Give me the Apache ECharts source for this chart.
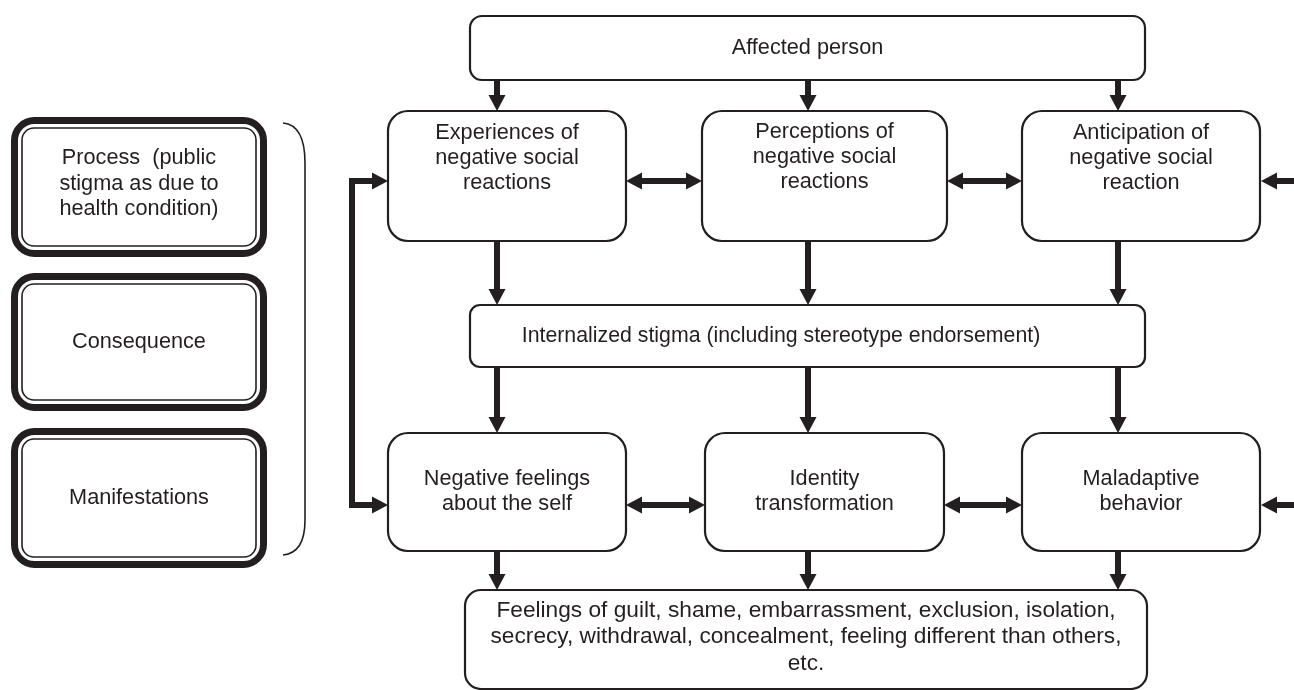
<!DOCTYPE html>
<html>
<head>
<meta charset="utf-8">
<script src="https://cdn.jsdelivr.net/npm/echarts@6/dist/echarts.min.js"></script>
<style>html,body{margin:0;padding:0;background:#fff}#main{width:1294px;height:690px}</style>
</head>
<body>
<div id="main"></div>
<script>
// texts of the diagram
var topText = ['Affected person'];
var row1Text = ['Experiences of\nnegative social\nreactions', 'Perceptions of\nnegative social\nreactions', 'Anticipation of\nnegative social\nreaction'];
var midText = ['Internalized stigma (including stereotype endorsement)'];
var row2Text = ['Negative feelings\nabout the self', 'Identity\ntransformation', 'Maladaptive\nbehavior'];
var bottomText = ['Feelings of guilt, shame, embarrassment, exclusion, isolation,\nsecrecy, withdrawal, concealment, feeling different than others,\netc.'];
var keyText = ['Process  (public\nstigma as due to\nhealth condition)', 'Consequence', 'Manifestations'];

// layout, in a 1294 x 690 frame
var C = '#231f20';
var FONT = 21.7;
var rowTop = [16, 80], rowR1 = [111, 241], rowMid = [305, 367], rowR2 = [433, 551], rowBot = [590, 689];
var r1Cols = [[388, 626], [702, 947], [1022, 1260]];
var r2Cols = [[388, 626], [705, 944], [1022, 1260]];
var wideCols = [470, 1145], botCols = [465, 1147];
var arrowX = [497, 808, 1118];
var keyRows = [[117, 257], [273, 411], [428, 568]], keyCols = [11, 267];
var loopX = 352, linkY = [181, 505];

// boxes
var boxes = [];
function addBox(cols, rows, text, opt) {
  opt = opt || {};
  boxes.push({x0: cols[0], y0: rows[0], x1: cols[1], y1: rows[1], text: text,
    r: opt.r || 16, key: !!opt.key, tx: opt.tx, ty: opt.ty,
    fs: opt.fs || FONT, lh: opt.lh || 25.5});
}
addBox(wideCols, rowTop, topText[0], {r: 12});
row1Text.forEach(function (t, i) { addBox(r1Cols[i], rowR1, t, {r: 20, ty: i === 1 ? 157 : 158, lh: 25}); });
addBox(wideCols, rowMid, midText[0], {r: 10, tx: 781, fs: 21.3});
row2Text.forEach(function (t, i) { addBox(r2Cols[i], rowR2, t, {r: 20, lh: 25}); });
addBox(botCols, rowBot, bottomText[0], {r: 16, ty: 637, fs: 22.7, lh: 26.5});
keyText.forEach(function (t, i) { addBox(keyCols, keyRows[i], t, {key: true, ty: i === 0 ? 184 : null}); });

// arrows: list of points, head at the end (and start if both)
var arrows = [];
arrowX.forEach(function (x) {
  arrows.push({pts: [[x, rowTop[1]], [x, rowR1[0]]]});
  arrows.push({pts: [[x, rowR1[1]], [x, rowMid[0]]]});
  arrows.push({pts: [[x, rowMid[1]], [x, rowR2[0]]]});
  arrows.push({pts: [[x, rowR2[1]], [x, rowBot[0]]]});
});
[0, 1].forEach(function (i) {
  arrows.push({pts: [[r1Cols[i][1], linkY[0]], [r1Cols[i + 1][0], linkY[0]]], both: true});
  arrows.push({pts: [[r2Cols[i][1], linkY[1]], [r2Cols[i + 1][0], linkY[1]]], both: true});
});
arrows.push({pts: [[1294, linkY[0]], [r1Cols[2][1] + 1, linkY[0]]]});
arrows.push({pts: [[1294, linkY[1]], [r2Cols[2][1] + 1, linkY[1]]]});
arrows.push({pts: [[loopX, linkY[1]], [loopX, linkY[0]], [r1Cols[0][0], linkY[0]]]});
arrows.push({pts: [[loopX, linkY[0]], [loopX, linkY[1]], [r2Cols[0][0], linkY[1]]]});

var brace = {x0: 283, x1: 305, y0: 123, y1: 555};

var HL = 16, HW = 8.5, SW = 6;

function renderBox(params, api) {
  var b = boxes[params.dataIndex];
  var p0 = api.coord([b.x0, b.y0]), p1 = api.coord([b.x1, b.y1]);
  var w = p1[0] - p0[0], h = p1[1] - p0[1];
  var kids = [];
  if (b.key) {
    kids.push({type: 'rect', shape: {x: p0[0] + 3.5, y: p0[1] + 3.5, width: w - 7, height: h - 7, r: 20},
      style: {fill: '#fff', stroke: C, lineWidth: 7}});
    kids.push({type: 'rect', shape: {x: p0[0] + 11, y: p0[1] + 11, width: w - 22, height: h - 22, r: 12},
      style: {fill: 'none', stroke: C, lineWidth: 1.6}});
  } else {
    kids.push({type: 'rect', shape: {x: p0[0], y: p0[1], width: w, height: h, r: b.r},
      style: {fill: '#fff', stroke: C, lineWidth: 2.2}});
  }
  var c = api.coord([b.tx != null ? b.tx : (b.x0 + b.x1) / 2, b.ty != null ? b.ty : (b.y0 + b.y1) / 2]);
  kids.push({type: 'text', x: c[0], y: c[1], style: {text: b.text, fill: C, fontSize: b.fs,
    fontFamily: '"Liberation Sans", Arial, sans-serif', align: 'center', verticalAlign: 'middle', lineHeight: b.lh}});
  return {type: 'group', children: kids};
}

function head(tip, from) {
  var dx = tip[0] - from[0], dy = tip[1] - from[1];
  var L = Math.sqrt(dx * dx + dy * dy), ux = dx / L, uy = dy / L;
  var bx = tip[0] - ux * HL, by = tip[1] - uy * HL;
  return {
    poly: [[tip[0], tip[1]], [bx - uy * HW, by + ux * HW], [bx + uy * HW, by - ux * HW]],
    base: [bx + ux, by + uy]
  };
}

function renderArrow(params, api) {
  var a = arrows[params.dataIndex];
  var pts = a.pts.map(function (p) { return api.coord(p); });
  var n = pts.length, shaft = pts.slice(), kids = [];
  var h = head(pts[n - 1], pts[n - 2]);
  shaft[n - 1] = h.base;
  kids.push({type: 'polygon', shape: {points: h.poly}, style: {fill: C}});
  if (a.both) {
    var h2 = head(pts[0], pts[1]);
    shaft[0] = h2.base;
    kids.push({type: 'polygon', shape: {points: h2.poly}, style: {fill: C}});
  }
  kids.unshift({type: 'polyline', shape: {points: shaft},
    style: {stroke: C, lineWidth: SW, fill: null, lineJoin: 'miter', lineCap: 'butt'}});
  return {type: 'group', children: kids};
}

function renderBrace(params, api) {
  var a = api.coord([brace.x0, brace.y0]), b = api.coord([brace.x1, brace.y1]);
  var d = 'M' + a[0] + ' ' + a[1] +
    ' Q' + b[0] + ' ' + (a[1] + 2) + ' ' + b[0] + ' ' + (a[1] + 40) +
    ' L' + b[0] + ' ' + (b[1] - 35) +
    ' Q' + b[0] + ' ' + (b[1] - 2) + ' ' + a[0] + ' ' + b[1];
  return {type: 'path', shape: {pathData: d}, style: {fill: null, stroke: C, lineWidth: 1.6}};
}

var myChart = echarts.init(document.getElementById('main'));
var option = {
  animation: false,
  backgroundColor: '#fff',
  grid: {left: 0, right: 0, top: 0, bottom: 0},
  xAxis: {type: 'value', min: 0, max: 1294, show: false},
  yAxis: {type: 'value', min: 0, max: 690, inverse: true, show: false},
  series: [
    {type: 'custom', renderItem: renderBrace, data: [[brace.x0, brace.y0]], silent: true},
    {type: 'custom', renderItem: renderBox, data: boxes.map(function (b) { return [b.x0, b.y0]; }), silent: true},
    {type: 'custom', renderItem: renderArrow, data: arrows.map(function (a) { return a.pts[0]; }), silent: true}
  ]
};
myChart.setOption(option);
</script>
</body>
</html>
